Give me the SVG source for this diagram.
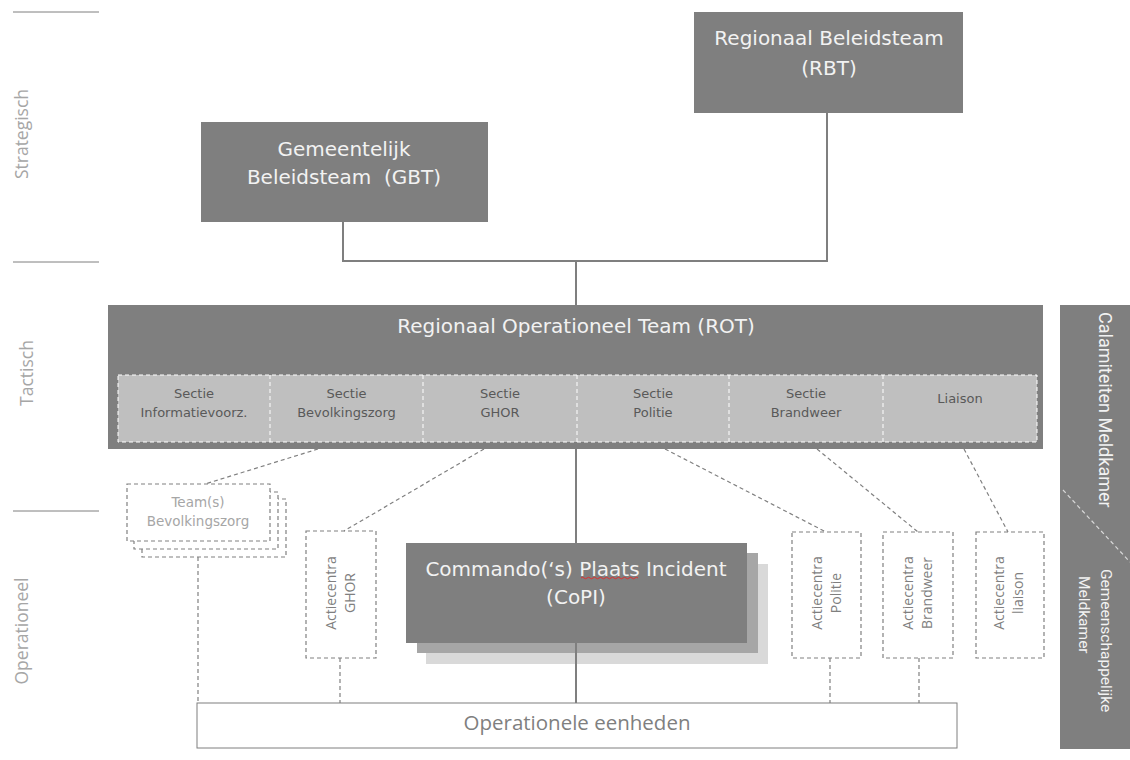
<svg xmlns="http://www.w3.org/2000/svg" width="1130" height="760" viewBox="0 0 1130 760">
<style>
.box{fill:#7f7f7f}
.wt{font-family:"DejaVu Sans",Verdana,sans-serif;fill:#f2f2f2;text-anchor:middle;font-size:20px}
.sec{font-family:"DejaVu Sans",Verdana,sans-serif;fill:#595959;font-size:13px;text-anchor:middle}
.team{font-family:"DejaVu Sans",Verdana,sans-serif;fill:#a6a6a6;font-size:13.5px;text-anchor:middle}
.lvl{font-family:"Open Sans",sans-serif;fill:#a6a6a6;font-size:17.5px;text-anchor:middle}
.ac{font-family:"Open Sans",sans-serif;fill:#7f7f7f;font-size:14px;text-anchor:middle}
.side{font-family:Roboto,sans-serif;fill:#f2f2f2}
.dash{fill:none;stroke:#808080;stroke-width:1.2;stroke-dasharray:4 3}
.dashw{fill:#ffffff;stroke:#808080;stroke-width:1.2;stroke-dasharray:4 3}
.solid{fill:none;stroke:#7f7f7f;stroke-width:2}
.rule{stroke:#7f7f7f;stroke-width:1}
</style>
<rect width="1130" height="760" fill="#ffffff"/>

<g id="levels">
<line class="rule" x1="13" y1="12" x2="99" y2="12"/>
<line class="rule" x1="13" y1="262" x2="99" y2="262"/>
<line class="rule" x1="13" y1="511" x2="99" y2="511"/>
<text class="lvl" transform="translate(28,134) rotate(-90)">Strategisch</text>
<text class="lvl" transform="translate(33,373) rotate(-90)">Tactisch</text>
<text class="lvl" transform="translate(28,631) rotate(-90)">Operationeel</text>
</g>

<g id="connectors">
<polyline class="solid" points="343,222 343,261 827,261 827,113"/>
<line class="solid" x1="576" y1="261" x2="576" y2="305"/>
<line class="solid" x1="576" y1="449" x2="576" y2="543"/>
<line class="dash" x1="318" y1="449" x2="205" y2="484"/>
<line class="dash" x1="484" y1="449" x2="344" y2="531"/>
<line class="dash" x1="665" y1="449" x2="826" y2="532"/>
<line class="dash" x1="817" y1="449" x2="918" y2="532"/>
<line class="dash" x1="964" y1="449" x2="1008" y2="532"/>
<line class="dash" x1="198" y1="557" x2="198" y2="703"/>
<line class="dash" x1="340" y1="658" x2="340" y2="703"/>
<line class="dash" x1="830" y1="658" x2="830" y2="703"/>
<line class="dash" x1="919" y1="658" x2="919" y2="703"/>
</g>

<g id="rbt">
<rect class="box" x="694" y="12" width="269" height="101"/>
<text class="wt" x="829" y="45">Regionaal Beleidsteam</text>
<text class="wt" x="829" y="75">(RBT)</text>
</g>

<g id="gbt">
<rect class="box" x="201" y="122" width="287" height="100"/>
<text class="wt" x="344" y="155.5">Gemeentelijk</text>
<text class="wt" x="344" y="184" xml:space="preserve">Beleidsteam  (GBT)</text>
</g>

<g id="rot">
<rect class="box" x="108" y="305" width="935" height="144"/>
<text class="wt" x="576" y="333">Regionaal Operationeel Team (ROT)</text>
<rect x="118" y="375" width="919" height="67" fill="#bfbfbf" stroke="#ffffff" stroke-width="1" stroke-dasharray="4 3"/>
<g stroke="#ffffff" stroke-width="1" stroke-dasharray="4 3">
<line x1="270" y1="375" x2="270" y2="442"/>
<line x1="423" y1="375" x2="423" y2="442"/>
<line x1="577" y1="375" x2="577" y2="442"/>
<line x1="729" y1="375" x2="729" y2="442"/>
<line x1="883" y1="375" x2="883" y2="442"/>
</g>
<text class="sec" x="194" y="397.5">Sectie</text>
<text class="sec" x="194" y="416.5">Informatievoorz.</text>
<text class="sec" x="346.5" y="397.5">Sectie</text>
<text class="sec" x="346.5" y="416.5">Bevolkingszorg</text>
<text class="sec" x="500" y="397.5">Sectie</text>
<text class="sec" x="500" y="416.5">GHOR</text>
<text class="sec" x="653" y="397.5">Sectie</text>
<text class="sec" x="653" y="416.5">Politie</text>
<text class="sec" x="806" y="397.5">Sectie</text>
<text class="sec" x="806" y="416.5">Brandweer</text>
<text class="sec" x="960" y="402.5">Liaison</text>
</g>

<g id="team-bevolkingszorg">
<rect class="dashw" x="142" y="499" width="144" height="58"/>
<rect class="dashw" x="134" y="492" width="144" height="57"/>
<rect class="dashw" x="127" y="484" width="143" height="57"/>
<text class="team" x="198" y="507">Team(s)</text>
<text class="team" x="198" y="526">Bevolkingszorg</text>
</g>

<g id="actiecentra-ghor">
<rect class="dash" x="306" y="531" width="70" height="127"/>
<text class="ac" transform="translate(335.5,593) rotate(-90)">Actiecentra</text>
<text class="ac" transform="translate(354.5,593) rotate(-90)">GHOR</text>
</g>

<g id="copi">
<rect x="426" y="564" width="342" height="100" fill="#d9d9d9"/>
<rect x="417" y="553" width="341" height="100" fill="#a6a6a6"/>
<rect class="box" x="406" y="543" width="341" height="100"/>
<text class="wt" x="576" y="576">Commando(‘s) Plaats Incident</text>
<text class="wt" x="576" y="604">(CoPI)</text>
<path d="M581,578 q1.5,-1.5 3,0 t3,0 t3,0 t3,0 t3,0 t3,0 t3,0 t3,0 t3,0 t3,0 t3,0 t3,0 t3,0 t3,0 t3,0 t3,0 t3,0 t3,0 t3,0" fill="none" stroke="#e03030" stroke-width="1"/>
</g>
<line class="solid" x1="576" y1="643" x2="576" y2="703"/>

<g id="actiecentra-politie">
<rect class="dash" x="792" y="532" width="69" height="126"/>
<text class="ac" transform="translate(822,593) rotate(-90)">Actiecentra</text>
<text class="ac" transform="translate(840.5,593) rotate(-90)">Politie</text>
</g>

<g id="actiecentra-brandweer">
<rect class="dash" x="883" y="532" width="70" height="126"/>
<text class="ac" transform="translate(913,593) rotate(-90)">Actiecentra</text>
<text class="ac" transform="translate(932,593) rotate(-90)">Brandweer</text>
</g>

<g id="actiecentra-liaison">
<rect class="dash" x="976" y="532" width="68" height="126"/>
<text class="ac" transform="translate(1004,593) rotate(-90)">Actiecentra</text>
<text class="ac" transform="translate(1023,593) rotate(-90)">liaison</text>
</g>

<g id="operationele-eenheden">
<rect x="197" y="703" width="760" height="45" fill="#ffffff" stroke="#7f7f7f" stroke-width="1"/>
<text x="577" y="730" font-family="Open Sans, sans-serif" font-size="20.5" fill="#7f7f7f" text-anchor="middle">Operationele eenheden</text>
</g>

<g id="meldkamer">
<rect class="box" x="1060" y="305" width="70" height="444"/>
<line x1="1063" y1="490" x2="1130" y2="562" stroke="#d9d9d9" stroke-width="1.2" stroke-dasharray="4 3"/>
<text class="side" font-size="18" transform="translate(1099,312) rotate(90)">Calamiteiten Meldkamer</text>
<text class="side" font-size="15.5" transform="translate(1101,569) rotate(90)">Gemeenschappelijke</text>
<text class="side" font-size="15.5" transform="translate(1079,576) rotate(90)">Meldkamer</text>
</g>
</svg>
